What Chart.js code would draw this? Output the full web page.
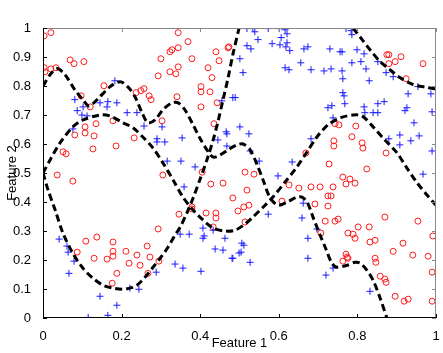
<!DOCTYPE html>
<html>
<head>
<meta charset="utf-8">
<script src="https://cdn.jsdelivr.net/npm/chart.js@4.4.1/dist/chart.umd.min.js"></script>
<style>
  html, body { margin: 0; padding: 0; background: #fff; }
  #wrap { width: 443px; height: 353px; }
</style>
</head>
<body>
<div id="wrap"><canvas id="chart" width="443" height="353"></canvas></div>
<script>
// class 1 (red circles)
const redX = [0.003,0.020,0.003,0.005,0.020,0.033,0.069,0.079,0.104,0.097,0.120,0.155,0.237,0.249,0.257,0.270,0.275,0.293,0.300,
  0.344,0.369,0.344,0.328,0.323,0.323,0.338,0.344,0.379,0.420,0.430,0.402,0.402,0.425,0.440,0.448,0.471,0.473,0.341,0.443,0.402,
  0.081,0.107,0.107,0.135,0.130,0.178,0.127,0.186,0.232,0.051,0.059,0.036,0.076,0.303,0.435,0.669,0.305,0.405,0.427,0.458,
  0.514,0.537,0.519,0.483,0.496,0.511,0.524,0.346,0.379,0.379,0.415,0.440,0.440,0.433,0.514,0.608,0.626,0.651,0.682,0.705,
  0.738,0.743,0.753,0.796,0.786,0.740,0.740,0.812,0.814,0.873,0.728,0.824,0.763,0.781,0.794,0.771,0.725,0.733,0.692,0.725,
  0.718,0.743,0.751,0.870,0.954,0.776,0.789,0.794,0.802,0.830,0.832,0.845,0.707,0.771,0.774,0.776,0.763,0.845,0.847,0.891,
  0.916,0.941,0.980,0.992,0.990,0.858,0.870,0.873,0.896,0.919,0.929,0.990,0.875,0.880,0.880,0.896,0.911,0.924,0.967,
  0.087,0.109,0.137,0.130,0.178,0.178,0.178,0.163,0.188,0.176,0.211,0.219,0.239,0.247,0.265,0.272,0.267,0.295,0.293];
const redY = [0.973,0.984,0.863,0.849,0.859,0.863,0.890,0.877,0.884,0.766,0.728,0.801,0.777,0.784,0.791,0.766,0.753,0.835,0.894,
  0.984,0.953,0.932,0.925,0.918,0.849,0.842,0.866,0.894,0.863,0.829,0.798,0.780,0.780,0.918,0.887,0.932,0.935,0.763,0.742,0.728,
  0.631,0.659,0.638,0.670,0.628,0.680,0.583,0.593,0.621,0.573,0.566,0.493,0.472,0.680,0.670,0.569,0.493,0.503,0.462,0.465,
  0.503,0.496,0.441,0.414,0.369,0.383,0.389,0.358,0.383,0.376,0.362,0.362,0.345,0.314,0.331,0.403,0.459,0.448,0.452,0.452,
  0.452,0.670,0.666,0.662,0.625,0.611,0.593,0.604,0.586,0.569,0.531,0.514,0.486,0.479,0.465,0.462,0.421,0.421,0.393,0.386,
  0.334,0.334,0.341,0.348,0.334,0.293,0.289,0.275,0.314,0.314,0.262,0.268,0.293,0.220,0.210,0.206,0.196,0.206,0.192,0.230,
  0.258,0.217,0.213,0.283,0.158,0.144,0.134,0.123,0.075,0.058,0.065,0.058,0.908,0.908,0.877,0.884,0.901,0.825,0.877,
  0.227,0.265,0.279,0.206,0.262,0.230,0.213,0.203,0.154,0.120,0.230,0.189,0.217,0.182,0.248,0.210,0.154,0.196,0.307];

// class 2 (blue pluses)
const blueX = [0.081,0.087,0.102,0.099,0.112,0.145,0.165,0.163,0.188,0.183,0.214,0.076,0.239,0.257,0.290,0.290,0.303,0.310,
  0.354,0.316,0.351,0.387,0.359,0.466,0.468,0.501,0.524,0.445,0.468,0.527,0.550,0.598,0.634,0.573,0.662,0.659,0.407,0.433,
  0.407,0.463,0.438,0.458,0.506,0.511,0.504,0.499,0.481,0.483,0.527,0.349,0.372,0.410,0.336,0.356,0.402,0.288,0.674,0.674,
  0.697,0.720,0.738,0.832,0.041,0.061,0.064,0.079,0.066,0.145,0.115,0.165,0.188,0.221,0.244,
  0.519,0.534,0.539,0.573,0.601,0.616,0.621,0.547,0.519,0.529,0.583,0.603,0.621,0.618,0.628,0.664,0.674,0.606,0.501,0.509,
  0.656,0.616,0.626,0.483,0.489,0.455,0.771,0.784,0.786,0.730,0.756,0.761,0.799,0.817,0.682,0.715,0.733,0.761,0.786,0.809,
  0.822,0.763,0.830,0.852,0.873,0.891,0.929,0.954,0.987,0.763,0.766,0.768,0.725,0.735,0.817,0.819,0.852,0.868,0.852,0.840,
  0.921,0.926,0.990,0.738,0.944,0.908,0.957,0.880,0.908,0.936,0.990,0.967,0.682];
const blueY = [0.753,0.715,0.728,0.700,0.697,0.742,0.746,0.728,0.742,0.818,0.708,0.652,0.708,0.662,0.618,0.607,0.659,0.607,
  0.621,0.541,0.541,0.521,0.452,0.642,0.635,0.659,0.635,0.614,0.593,0.576,0.541,0.490,0.538,0.358,0.396,0.345,0.310,0.303,
  0.275,0.275,0.238,0.234,0.258,0.251,0.227,0.224,0.206,0.206,0.192,0.289,0.289,0.283,0.186,0.172,0.161,0.158,0.275,0.206,
  0.307,0.148,0.172,0.092,0.272,0.248,0.227,0.196,0.154,0.075,0.002,0.009,0.044,0.103,0.099,
  0.998,0.998,0.987,0.998,0.998,0.994,0.980,0.960,0.939,0.928,0.946,0.942,0.949,0.935,0.922,0.928,0.935,0.967,0.894,0.846,
  0.880,0.863,0.856,0.760,0.760,0.749,0.998,0.991,0.977,0.928,0.918,0.918,0.925,0.911,0.856,0.852,0.859,0.852,0.880,0.884,
  0.859,0.825,0.818,0.884,0.846,0.832,0.773,0.798,0.773,0.777,0.766,0.739,0.725,0.732,0.728,0.708,0.739,0.746,0.708,0.708,
  0.715,0.725,0.711,0.690,0.673,0.631,0.628,0.618,0.597,0.611,0.576,0.496,0.618];

// decision boundary contours
const boundA_X = [0,0.018,0.036,0.056,0.081,0.102,0.117,0.137,0.170,0.196,0.216,0.234,0.252,0.267,0.285,0.305,0.328,0.344,
  0.361,0.382,0.399,0.417,0.433,0.450,0.471,0.494,0.509,0.527,0.545,0.560,0.578,0.598,0.621,0.646,0.659,0.672,0.687,0.705,
  0.718,0.735,0.748,0.774,0.794,0.807,0.824,0.840,0.858,0.875];
const boundA_Y = [0.800,0.839,0.860,0.839,0.787,0.752,0.731,0.752,0.797,0.815,0.797,0.763,0.708,0.673,0.683,0.718,0.742,0.742,
  0.718,0.666,0.621,0.580,0.555,0.562,0.580,0.597,0.600,0.580,0.528,0.476,0.414,0.389,0.400,0.417,0.417,0.400,0.348,0.286,
  0.244,0.189,0.175,0.182,0.192,0.189,0.165,0.130,0.068,0.0];
const boundB_X = [0,0.018,0.043,0.076,0.102,0.145,0.170,0.204,0.229,0.254,0.280,0.305,0.331,0.356,0.382,0.407,0.433,0.463,
  0.489,0.514,0.534,0.560,0.585,0.616,0.646,0.672,0.697,0.725,0.756,0.789,0.812,0.840,0.870,0.901,0.926,0.952,0.977,1.0];
const boundB_Y = [0.500,0.545,0.603,0.659,0.683,0.700,0.697,0.673,0.656,0.624,0.586,0.535,0.476,0.417,0.372,0.338,0.310,0.300,
  0.303,0.324,0.348,0.382,0.417,0.469,0.521,0.573,0.624,0.666,0.690,0.700,0.697,0.659,0.614,0.569,0.517,0.466,0.424,0.389];
const boundC_X = [0,0.013,0.031,0.051,0.076,0.102,0.127,0.153,0.178,0.201,0.221,0.239,0.260,0.280,0.298,0.318,0.336,0.349,
  0.366,0.382,0.399,0.417,0.433,0.445,0.458,0.471,0.483,0.499];
const boundC_Y = [0.500,0.441,0.372,0.292,0.223,0.171,0.137,0.113,0.103,0.099,0.103,0.113,0.141,0.175,0.206,0.244,0.286,0.313,
  0.362,0.414,0.476,0.545,0.614,0.676,0.752,0.828,0.908,1.0];
const boundD_X = [0.789,0.812,0.832,0.858,0.883,0.908,0.942,0.977,1.0];
const boundD_Y = [1.0,0.960,0.925,0.884,0.856,0.829,0.805,0.795,0.790];

const xTickValues = [0, 0.2, 0.4, 0.6, 0.8, 1];
const xTickLabels = ['0', '0.2', '0.4', '0.6', '0.8', '1'];
const yTickValues = [0, 0.1, 0.2, 0.3, 0.4, 0.5, 0.6, 0.7, 0.8, 0.9, 1];
const yTickLabels = ['0', '0.1', '0.2', '0.3', '0.4', '0.5', '0.6', '0.7', '0.8', '0.9', '1'];

const toPoints = (xs, ys) => xs.map((x, i) => ({ x: x, y: ys[i] }));

function boundary(xs, ys) {
    return {
        type: 'line',
        data: toPoints(xs, ys),
        showLine: true,
        borderColor: '#000',
        borderWidth: 3,
        borderDash: [7, 4],
        pointRadius: 0,
        tension: 0.3,
        fill: false,
        order: 0
    };
}

// matlab style box with inward ticks on every side
const boxPlugin = {
    id: 'box',
    afterDraw(chart) {
        const { ctx, chartArea: a, scales } = chart;
        const len = 4;
        ctx.save();
        ctx.lineWidth = 1;
        ctx.strokeStyle = '#888';
        ctx.beginPath();
        ctx.moveTo(a.left, a.top + 0.5);
        ctx.lineTo(a.right - 0.5, a.top + 0.5);
        ctx.lineTo(a.right - 0.5, a.bottom);
        ctx.stroke();
        xTickValues.forEach(v => {
            const px = Math.round(scales.x.getPixelForValue(v)) + 0.5;
            ctx.beginPath();
            ctx.moveTo(px, a.top);
            ctx.lineTo(px, a.top + len);
            ctx.stroke();
        });
        yTickValues.forEach(v => {
            const py = Math.round(scales.y.getPixelForValue(v)) + 0.5;
            ctx.beginPath();
            ctx.moveTo(a.right, py);
            ctx.lineTo(a.right - len, py);
            ctx.stroke();
        });
        ctx.strokeStyle = '#000';
        ctx.beginPath();
        ctx.moveTo(a.left + 0.5, a.top);
        ctx.lineTo(a.left + 0.5, a.bottom - 0.5);
        ctx.lineTo(a.right, a.bottom - 0.5);
        ctx.stroke();
        xTickValues.forEach(v => {
            const px = Math.round(scales.x.getPixelForValue(v)) + 0.5;
            ctx.beginPath();
            ctx.moveTo(px, a.bottom);
            ctx.lineTo(px, a.bottom - len);
            ctx.stroke();
        });
        yTickValues.forEach(v => {
            const py = Math.round(scales.y.getPixelForValue(v)) + 0.5;
            ctx.beginPath();
            ctx.moveTo(a.left, py);
            ctx.lineTo(a.left + len, py);
            ctx.stroke();
        });
        ctx.restore();
    }
};

const font = { family: '"Liberation Sans", Arial, sans-serif', size: 13 };

new Chart(document.getElementById('chart'), {
    type: 'scatter',
    data: {
        datasets: [
            boundary(boundA_X, boundA_Y),
            boundary(boundB_X, boundB_Y),
            boundary(boundC_X, boundC_Y),
            boundary(boundD_X, boundD_Y),
            {
                data: toPoints(redX, redY),
                pointStyle: 'circle',
                pointRadius: 3,
                borderColor: '#ff1a1a',
                backgroundColor: 'rgba(0,0,0,0)',
                borderWidth: 1,
                order: 2
            },
            {
                data: toPoints(blueX, blueY),
                pointStyle: 'cross',
                pointRadius: 3.5,
                borderColor: '#1a1aff',
                backgroundColor: '#1a1aff',
                borderWidth: 1,
                order: 1
            }
        ]
    },
    options: {
        responsive: false,
        animation: false,
        devicePixelRatio: 1,
        layout: { padding: { top: 28, right: 7, left: 0, bottom: 0 } },
        plugins: {
            legend: { display: false },
            tooltip: { enabled: false }
        },
        scales: {
            x: {
                type: 'linear',
                min: 0,
                max: 1,
                grid: { display: false },
                border: { display: false },
                afterBuildTicks: s => { s.ticks = xTickValues.map(v => ({ value: v })); },
                afterFit: s => { s.height = 35; },
                ticks: {
                    color: '#000',
                    font: font,
                    padding: 3,
                    maxRotation: 0,
                    callback: v => xTickLabels[xTickValues.indexOf(v)]
                },
                title: {
                    display: true,
                    text: 'Feature 1',
                    color: '#000',
                    font: font,
                    padding: { top: 0, bottom: 2 }
                }
            },
            y: {
                type: 'linear',
                min: 0,
                max: 1,
                grid: { display: false },
                border: { display: false },
                afterBuildTicks: s => { s.ticks = yTickValues.map(v => ({ value: v })); },
                afterFit: s => { s.width = 43; },
                ticks: {
                    color: '#000',
                    font: font,
                    padding: 4,
                    autoSkip: false,
                    callback: v => yTickLabels[yTickValues.indexOf(v)]
                },
                title: {
                    display: true,
                    text: 'Feature 2',
                    color: '#000',
                    font: font,
                    padding: { top: 5, bottom: 0 }
                }
            }
        }
    },
    plugins: [boxPlugin]
});
</script>
</body>
</html>
